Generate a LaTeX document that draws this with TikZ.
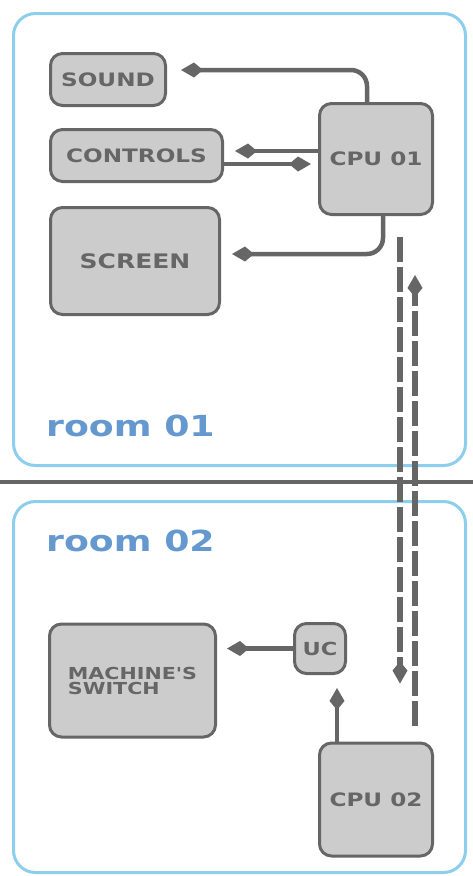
\documentclass[tikz,border=0pt]{standalone}
\usepackage{fontspec}
\usepackage{xcolor}
\usepackage{tikz}
\usetikzlibrary{arrows.meta}

\newfontfamily\techfont[FakeStretch=1.25]{DejaVu Sans}
\definecolor{wallblue}{RGB}{140,206,236}
\definecolor{labelblue}{RGB}{100,152,206}
\definecolor{partgray}{RGB}{102,102,102}
\definecolor{partfill}{RGB}{204,204,204}

\begin{document}
\begin{tikzpicture}[x=1pt,y=-1pt,
  room/.style={draw=wallblue,line width=3pt,rounded corners=22pt,inner sep=0pt},
  part/.style={draw=partgray,fill=partfill,line width=3pt,rounded corners=12pt,
    inner sep=0pt,text=partgray,font=\techfont\bfseries\fontsize{18.5}{18.5}\selectfont},
  link/.style={draw=partgray,line width=4.5pt,rounded corners=16pt,
    -{Kite[length=22pt,width=15pt,inset=9pt]}},
  netlink/.style={link,line width=5.5pt,dash pattern=on 25pt off 5pt},
  roomname/.style={anchor=west,inner sep=0pt,text=labelblue,
    font=\techfont\bfseries\fontsize{29}{29}\selectfont}]
  \useasboundingbox (0,0) rectangle (473,876);

  % rooms
  \node[room,minimum width=452pt,minimum height=452pt] (room1) at (239.5,239.5) {};
  \node[room,minimum width=452pt,minimum height=371pt] (room2) at (239.5,687) {};
  \node[roomname] (name1) at (46,426) {room 01};
  \node[roomname] (name2) at (46,541) {room 02};
  \coordinate (wallw) at (0,482);
  \coordinate (walle) at (473,482);
  \draw[partgray,line width=4pt] (wallw) -- (walle);

  % room 01
  \node[part,minimum width=115pt,minimum height=52pt] (sound) at (108,79.5) {SOUND};
  \node[part,minimum width=172pt,minimum height=52pt] (controls) at (136.5,155.5) {CONTROLS};
  \node[part,minimum width=169pt,minimum height=107pt,font=\techfont\bfseries\fontsize{20}{20}\selectfont] (screen) at (135,261) {SCREEN};
  \node[part,minimum width=113pt,minimum height=111pt] (cpu1) at (376,159) {CPU 01};

  % room 02
  \node[part,minimum width=166pt,minimum height=113pt,align=left,
    font=\techfont\bfseries\fontsize{16.5}{15}\selectfont] (mswitch) at (132.5,680.5) {MACHINE'S\\SWITCH};
  \node[part,minimum width=51pt,minimum height=50pt,font=\techfont\bfseries\fontsize{18}{18}\selectfont] (uc) at (320,648.5) {UC};
  \node[part,minimum width=113pt,minimum height=113pt] (cpu2) at (376,799.5) {CPU 02};

  % cpu 01 links
  \coordinate (c1out) at ([yshift=8pt]cpu1.west);
  \coordinate (ctlout) at ([yshift=-8.5pt]controls.east);
  \draw[link,shorten >=14pt] ([xshift=-9pt]cpu1.north) |- ([yshift=9.5pt]sound.east);
  \draw[link,shorten >=11pt] (c1out) -- (c1out -| controls.east);
  \draw[link,shorten >=7pt] (ctlout) -- (ctlout -| cpu1.west);
  \draw[link,shorten >=11pt] ([xshift=7pt]cpu1.south) |- ([yshift=7pt]screen.east);

  % network between the rooms
  \draw[netlink,shorten <=21pt,shorten >=58pt] ([xshift=24pt]cpu1.south) -- ([xshift=24pt]cpu2.north);
  \draw[netlink,shorten <=16pt,shorten >=59pt] ([xshift=39pt]cpu2.north) -- ([xshift=39pt]cpu1.south);

  % cpu 02 links
  \coordinate (c2up) at ([xshift=-39pt]cpu2.north);
  \draw[link,shorten >=10pt] (uc.west) -- (uc.west -| mswitch.east);
  \draw[link,shorten >=13pt] (c2up) -- (c2up |- uc.south);
\end{tikzpicture}
\end{document}
